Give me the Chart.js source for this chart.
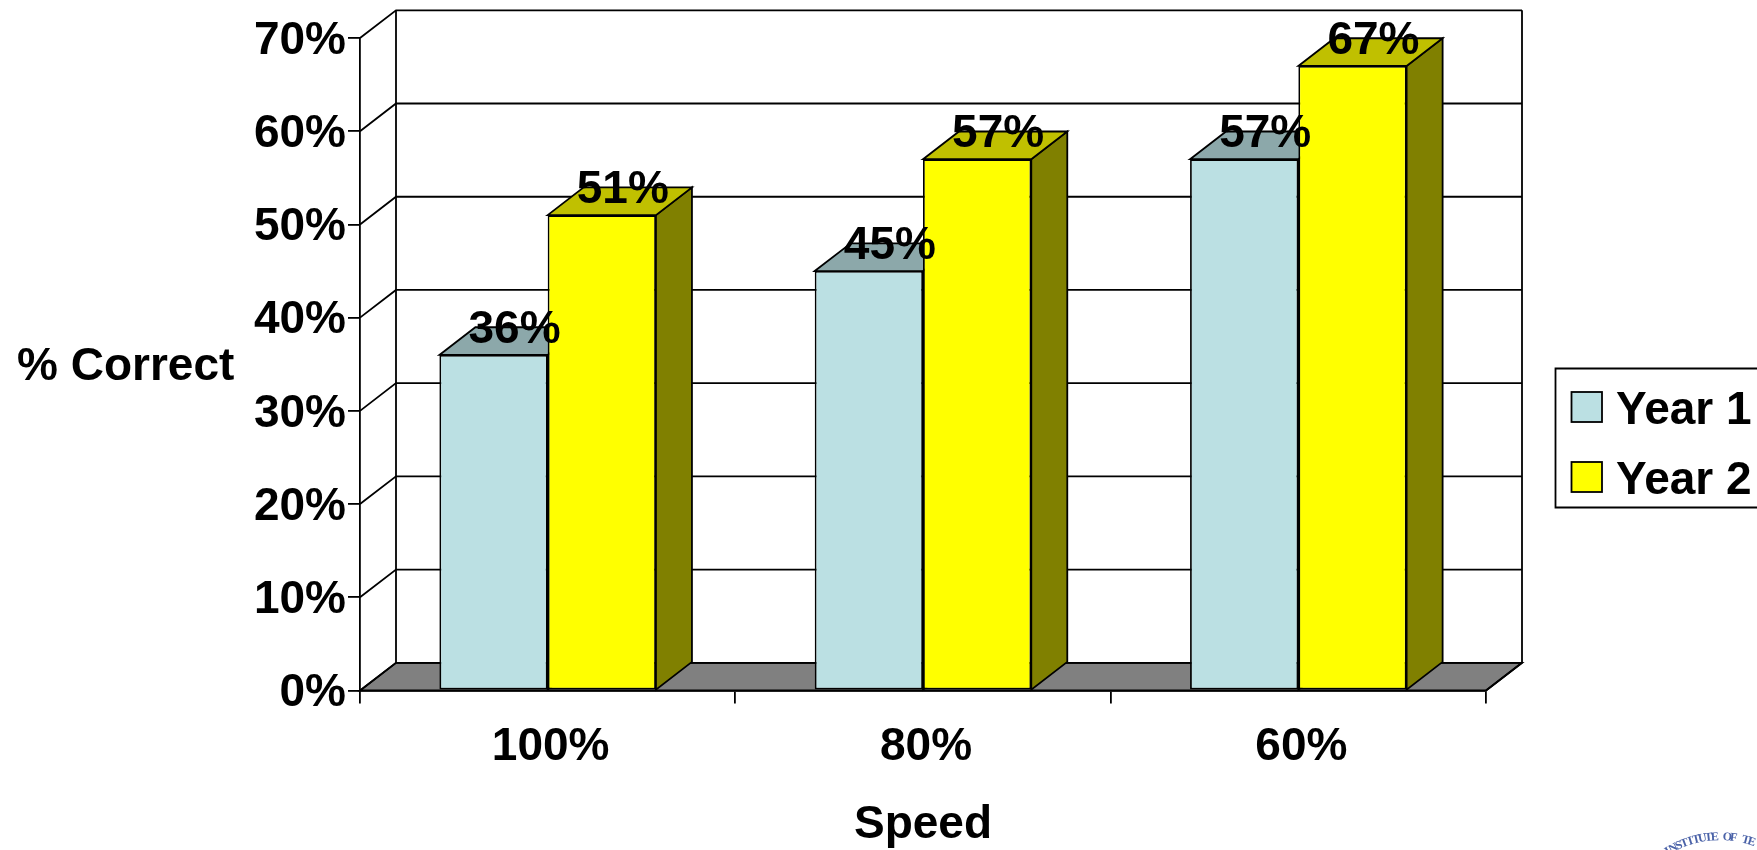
<!DOCTYPE html>
<html>
<head>
<meta charset="utf-8">
<title>% Correct by Speed</title>
<script src="https://cdn.jsdelivr.net/npm/chart.js@4"></script>
<style>
    html,body{margin:0;padding:0;background:#fff;}
    canvas{display:block;}
</style>
</head>
<body>
<canvas id="speedChart" width="1757" height="850"></canvas>
<script>
const categories = ["100%", "80%", "60%"];
const seriesNames = ["Year 1", "Year 2"];
const year1Values = [36, 45, 57];
const year2Values = [51, 57, 67];
const yTicks = [0, 10, 20, 30, 40, 50, 60, 70];
const xTitle = "Speed";
const yTitle = "% Correct";
const logoText = "INSTITUTE OF TE";

const FONT = "'Liberation Sans', Arial, sans-serif";
const depthX = 36;
const depthY = 27.7;
const lineW = 1.8;

const faceColors = [
    {front:"#BBE0E3", top:"#8CA8AA", side:"#5E7072"},
    {front:"#FFFF00", top:"#C0C000", side:"#808000"}
];

function poly(ctx, pts, fill){
    ctx.beginPath();
    pts.forEach((p,i)=>{
        if(i===0) ctx.moveTo(p[0],p[1]);
        else ctx.lineTo(p[0],p[1]);
    });
    ctx.closePath();
    if(fill){
        ctx.fillStyle=fill;
        ctx.fill();
    }
    ctx.stroke();
}

/* back wall, floor and side wall, then the extruded faces of the bars */
const box3d = {
    id:"box3d",
    beforeDatasetsDraw(chart){
        const ctx=chart.ctx;
        const area=chart.chartArea;
        const yScale=chart.scales.y;

        ctx.save();
        ctx.strokeStyle="#000";
        ctx.lineWidth=lineW;

        // floor
        const y0=yScale.getPixelForValue(0);
        poly(ctx,[
            [area.left,y0],
            [area.right,y0],
            [area.right+depthX,y0-depthY],
            [area.left+depthX,y0-depthY]
        ],"#808080");

        // gridlines on the back wall and the side wall
        yTicks.forEach(t=>{
            const y=yScale.getPixelForValue(t);
            ctx.beginPath();
            ctx.moveTo(area.left,y);
            ctx.lineTo(area.left+depthX,y-depthY);
            ctx.lineTo(area.right+depthX,y-depthY);
            ctx.stroke();
        });

        // wall edges
        const yTop=yScale.getPixelForValue(yTicks[yTicks.length-1]);
        ctx.beginPath();
        ctx.moveTo(area.left+depthX,yTop-depthY);
        ctx.lineTo(area.left+depthX,y0-depthY);
        ctx.moveTo(area.right+depthX,yTop-depthY);
        ctx.lineTo(area.right+depthX,y0-depthY);
        ctx.lineTo(area.right,y0);
        ctx.stroke();

        // bar tops and sides
        chart.data.datasets.forEach((ds,i)=>{
            chart.getDatasetMeta(i).data.forEach(bar=>{
                const l=bar.x-bar.width/2;
                const r=bar.x+bar.width/2;
                poly(ctx,[
                    [r,bar.y],
                    [r+depthX,bar.y-depthY],
                    [r+depthX,bar.base-depthY],
                    [r,bar.base]
                ],faceColors[i].side);
                poly(ctx,[
                    [l,bar.y],
                    [l+depthX,bar.y-depthY],
                    [r+depthX,bar.y-depthY],
                    [r,bar.y]
                ],faceColors[i].top);
            });
        });

        ctx.restore();
    }
};

/* value labels over the bars, y title, legend and logo fragment */
const annotations = {
    id:"annotations",
    afterDatasetsDraw(chart){
        const ctx=chart.ctx;
        ctx.save();
        ctx.fillStyle="#000";
        ctx.font="bold 46px "+FONT;
        ctx.textAlign="center";
        ctx.textBaseline="alphabetic";
        chart.data.datasets.forEach((ds,i)=>{
            chart.getDatasetMeta(i).data.forEach((bar,j)=>{
                ctx.fillText(ds.data[j]+"%",bar.x+21,bar.y-12);
            });
        });
        ctx.restore();
    },
    afterDraw(chart){
        const ctx=chart.ctx;
        ctx.save();

        ctx.fillStyle="#000";
        ctx.font="bold 46px "+FONT;
        ctx.textAlign="left";
        ctx.textBaseline="alphabetic";
        ctx.fillText(yTitle,17,380);

        // legend runs off the right edge of the page, as in the source
        ctx.strokeStyle="#000";
        ctx.lineWidth=lineW;
        ctx.beginPath();
        ctx.moveTo(1757,368.5);
        ctx.lineTo(1555.5,368.5);
        ctx.lineTo(1555.5,507.5);
        ctx.lineTo(1757,507.5);
        ctx.stroke();

        chart.data.datasets.forEach((ds,i)=>{
            const rowTop=392+i*70;
            ctx.fillStyle=ds.backgroundColor;
            ctx.fillRect(1571.5,rowTop,30.5,30);
            ctx.strokeRect(1571.5,rowTop,30.5,30);
            ctx.fillStyle="#000";
            ctx.fillText(ds.label,1616,rowTop+32);
        });

        // seal text, only its upper left arc is inside the page
        ctx.fillStyle="#4A62A8";
        ctx.font="bold 12px 'Liberation Serif', serif";
        ctx.textAlign="center";
        ctx.textBaseline="middle";
        const cx=1720, cy=937, rad=100;
        [...logoText].forEach((ch,i)=>{
            const a=-Math.PI/2-0.547+i*0.062;
            ctx.save();
            ctx.translate(cx+rad*Math.cos(a),cy+rad*Math.sin(a));
            ctx.rotate(a+Math.PI/2);
            ctx.fillText(ch,0,0);
            ctx.restore();
        });
        ctx.restore();
    }
};

new Chart(document.getElementById("speedChart").getContext("2d"),{
    type:"bar",
    data:{
        labels:categories,
        datasets:[
            {
                label:seriesNames[0],
                data:year1Values,
                backgroundColor:faceColors[0].front,
                borderColor:"#000",
                borderWidth:lineW,
                borderSkipped:false
            },
            {
                label:seriesNames[1],
                data:year2Values,
                backgroundColor:faceColors[1].front,
                borderColor:"#000",
                borderWidth:lineW,
                borderSkipped:false
            }
        ]
    },
    options:{
        responsive:false,
        animation:false,
        devicePixelRatio:1,
        categoryPercentage:0.577,
        barPercentage:1,
        layout:{
            padding:{top:38,right:271,bottom:0,left:0}
        },
        plugins:{
            title:{display:false},
            tooltip:{enabled:false},
            legend:{display:false}
        },
        scales:{
            x:{
                afterFit(scale){ scale.height=159.5; },
                border:{color:"#000",width:lineW},
                grid:{
                    drawOnChartArea:false,
                    color:"#000",
                    lineWidth:lineW,
                    tickColor:"#000",
                    tickLength:13
                },
                ticks:{
                    color:"#000",
                    padding:16,
                    labelOffset:3,
                    maxRotation:0,
                    font:{family:FONT,size:46,weight:"bold"}
                },
                title:{
                    display:true,
                    text:xTitle,
                    color:"#000",
                    padding:{top:0,bottom:-3},
                    font:{family:FONT,size:46,weight:"bold"}
                }
            },
            y:{
                min:0,
                max:70,
                afterFit(scale){ scale.width=360; },
                border:{color:"#000",width:lineW},
                grid:{
                    drawOnChartArea:false,
                    color:"#000",
                    lineWidth:lineW,
                    tickColor:"#000",
                    tickLength:12
                },
                ticks:{
                    stepSize:10,
                    color:"#000",
                    padding:2,
                    labelOffset:3,
                    callback:v=>v+"%",
                    font:{family:FONT,size:46,weight:"bold"}
                }
            }
        }
    },
    plugins:[box3d,annotations]
});
</script>
</body>
</html>
